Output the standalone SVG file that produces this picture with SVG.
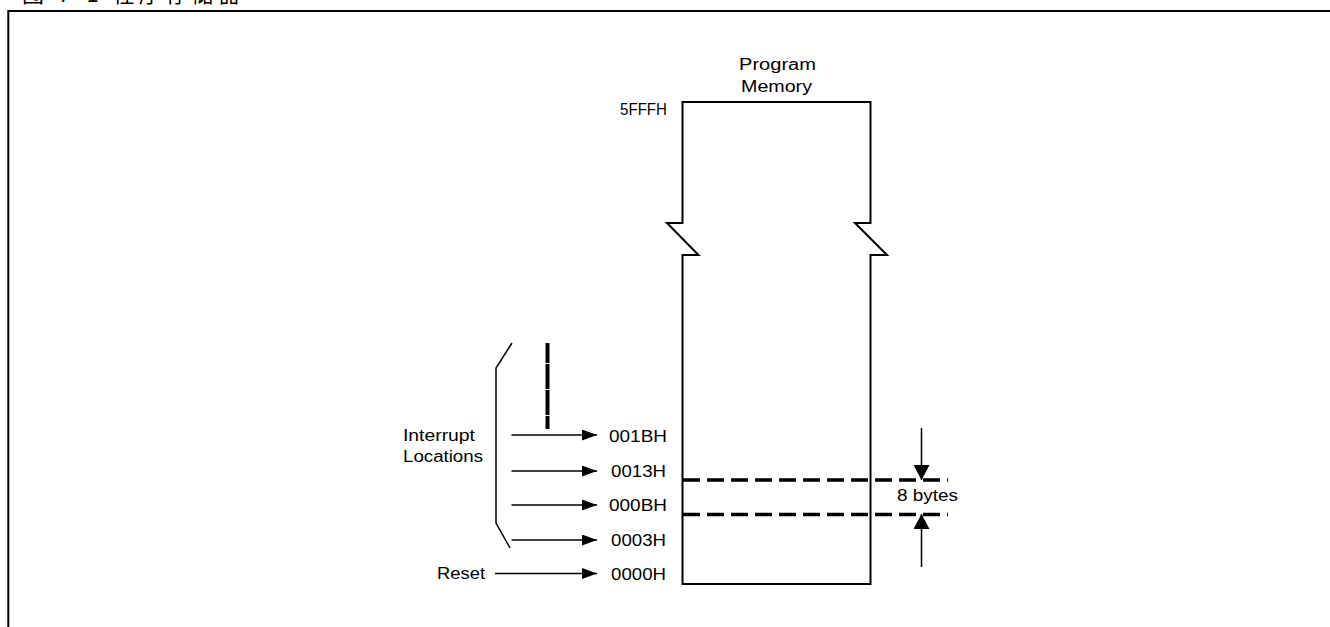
<svg xmlns="http://www.w3.org/2000/svg" width="1330" height="627" viewBox="0 0 1330 627">
  <style>
    .t { font-family: "Liberation Sans", Arial, sans-serif; font-size: 16px; fill: #000; }
    .title { font-family: "Noto Sans CJK SC", "Liberation Serif", serif; font-size: 22px; fill: #000; }
    .ln { stroke: #000; stroke-width: 1.5; fill: none; }
    .dash { stroke: #000; stroke-width: 3.5; stroke-dasharray: 17 7; fill: none; }
  </style>
  <defs>
    <marker id="arr" markerUnits="userSpaceOnUse" markerWidth="16" markerHeight="12" refX="15" refY="5.5" orient="auto">
      <path d="M0,0 L15,5.5 L0,11 Z" fill="#000"/>
    </marker>
    <marker id="dim" markerUnits="userSpaceOnUse" markerWidth="16" markerHeight="17" refX="15" refY="8" orient="auto">
      <path d="M0,0 L15,8 L0,16 Z" fill="#000"/>
    </marker>
  </defs>
  <rect width="1330" height="627" fill="#fff"/>

  <g id="title">
    <text class="title" x="22" y="2" textLength="218" lengthAdjust="spacing">图 7-1 程序存储器</text>
  </g>

  <g id="frame">
    <path d="M8.3,627 L8.3,11 L1330,11" stroke="#000" stroke-width="2" fill="none"/>
  </g>

  <g id="program-memory">
    <path d="M682.5,102 L870.5,102 L870.5,223 L855,223 L887,255 L870.5,255 L870.5,584 L682.5,584 L682.5,255 L698.5,255 L667,223 L682.5,223 Z" stroke="#000" stroke-width="2" fill="none"/>
    <text class="t" x="739" y="70" textLength="77" lengthAdjust="spacingAndGlyphs">Program</text>
    <text class="t" x="741" y="92" textLength="71" lengthAdjust="spacingAndGlyphs">Memory</text>
  </g>

  <g id="addresses">
    <text class="t" x="620" y="115" textLength="47" lengthAdjust="spacingAndGlyphs">5FFFH</text>
    <text class="t" x="609" y="442" textLength="58" lengthAdjust="spacingAndGlyphs">001BH</text>
    <text class="t" x="611" y="477" textLength="55" lengthAdjust="spacingAndGlyphs">0013H</text>
    <text class="t" x="609" y="511" textLength="58" lengthAdjust="spacingAndGlyphs">000BH</text>
    <text class="t" x="611" y="546" textLength="55" lengthAdjust="spacingAndGlyphs">0003H</text>
    <text class="t" x="611" y="580" textLength="55" lengthAdjust="spacingAndGlyphs">0000H</text>
  </g>

  <g id="interrupt-label">
    <text class="t" x="403" y="441" textLength="72" lengthAdjust="spacingAndGlyphs">Interrupt</text>
    <text class="t" x="403" y="462" textLength="80" lengthAdjust="spacingAndGlyphs">Locations</text>
    <polyline class="ln" points="512,343 496,368 496,523 510,548"/>
  </g>

  <g id="reset-label">
    <text class="t" x="437" y="579" textLength="48" lengthAdjust="spacingAndGlyphs">Reset</text>
  </g>

  <g id="size-label">
    <text class="t" x="897" y="501" textLength="61" lengthAdjust="spacingAndGlyphs">8 bytes</text>
  </g>

  <g id="connectors">
    <line x1="547.5" y1="343" x2="547.5" y2="429" stroke="#000" stroke-width="4" stroke-dasharray="25 1" stroke-dashoffset="5"/>
    <line class="ln" x1="511.5" y1="435" x2="597" y2="435" marker-end="url(#arr)"/>
    <line class="ln" x1="511.5" y1="471" x2="597" y2="471" marker-end="url(#arr)"/>
    <line class="ln" x1="511.5" y1="505" x2="597" y2="505" marker-end="url(#arr)"/>
    <line class="ln" x1="511.5" y1="540" x2="597" y2="540" marker-end="url(#arr)"/>
    <line class="ln" x1="495" y1="573.5" x2="597" y2="573.5" marker-end="url(#arr)"/>
    <line class="ln" x1="921.5" y1="428" x2="921.5" y2="480" marker-end="url(#dim)"/>
    <line class="ln" x1="921.5" y1="567" x2="921.5" y2="514" marker-end="url(#dim)"/>
    <line class="dash" x1="683" y1="480" x2="948" y2="480"/>
    <line class="dash" x1="683" y1="514.5" x2="948" y2="514.5"/>
  </g>
</svg>
